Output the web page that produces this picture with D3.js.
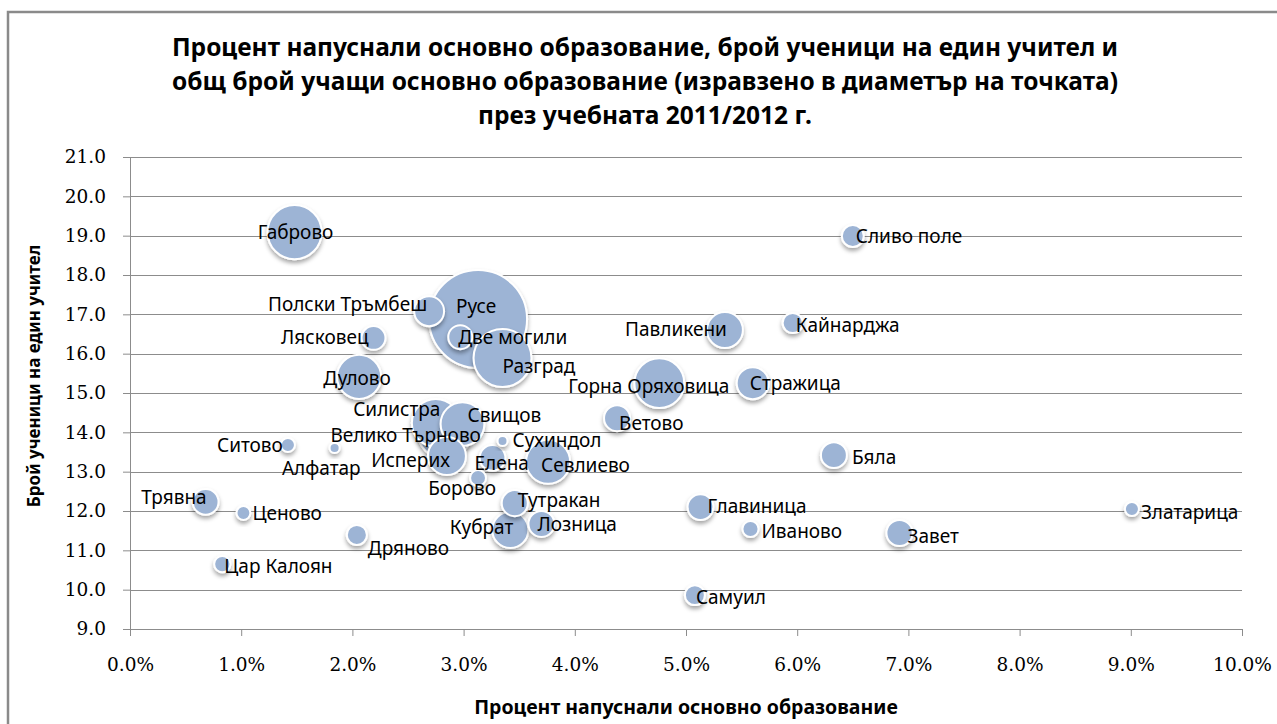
<!DOCTYPE html>
<html>
<head>
<meta charset="utf-8">
<script src="https://cdn.jsdelivr.net/npm/d3@7/dist/d3.min.js"></script>
<style>
  body { margin: 0; background: #fff; }
  svg { display: block; }
</style>
</head>
<body>
<div id="chart-area"></div>
<script>
// municipalities, dropout share (fraction), pupils per teacher, total pupils (bubble size)
var towns = ["Русе", "Разград", "Габрово", "Велико Търново", "Горна Оряховица", "Силистра",
    "Дулово", "Свищов", "Севлиево", "Исперих", "Павликени", "Кубрат", "Стражица",
    "Полски Тръмбеш", "Ветово", "Бяла", "Главиница", "Завет", "Елена", "Тутракан",
    "Лозница", "Трявна", "Две могили", "Лясковец", "Сливо поле", "Кайнарджа", "Самуил",
    "Дряново", "Иваново", "Борово", "Цар Калоян", "Ситово", "Ценово", "Златарица",
    "Алфатар", "Сухиндол"];
var dropout = [0.0313, 0.0335, 0.0148, 0.0283, 0.0476, 0.0275,
    0.0206, 0.0299, 0.0376, 0.0285, 0.0535, 0.0342, 0.0560,
    0.0269, 0.0438, 0.0633, 0.0513, 0.0692, 0.0326, 0.0346,
    0.0370, 0.0068, 0.0297, 0.0219, 0.0650, 0.0596, 0.0508,
    0.0204, 0.0558, 0.0313, 0.0083, 0.0142, 0.0102, 0.0901,
    0.0184, 0.0335];
var pupilsPerTeacher = [16.88, 15.89, 19.09, 14.01, 15.25, 14.24,
    15.41, 14.21, 13.25, 13.40, 16.60, 11.52, 15.25,
    17.08, 14.36, 13.42, 12.10, 11.44, 13.35, 12.20,
    11.67, 12.23, 16.42, 16.40, 18.99, 16.78, 9.86,
    11.39, 11.54, 12.84, 10.65, 13.68, 11.95, 12.05,
    13.60, 13.78];
var totalPupils = [16010, 5590, 4870, 4830, 4150, 3820,
    3240, 3190, 3230, 2410, 2150, 2170, 1710,
    1490, 1130, 1120, 1110, 1140, 1100, 1130,
    1120, 1110, 960, 950, 800, 680, 660,
    670, 430, 420, 440, 330, 320, 330,
    170, 165];

var xTickValues = [0, 0.01, 0.02, 0.03, 0.04, 0.05, 0.06, 0.07, 0.08, 0.09, 0.10];
var yTickValues = [9, 10, 11, 12, 13, 14, 15, 16, 17, 18, 19, 20, 21];

var titleLines = [
    "Процент напуснали основно образование, брой ученици на един учител и",
    "общ брой учащи основно образование (изравзено в диаметър на точката)",
    "през учебната 2011/2012 г."
];
var xTitle = "Процент напуснали основно образование";
var yTitle = "Брой ученици на един учител";

// hand placed label offsets (anchor, dx, dy from bubble centre), like the dragged labels in the original
var labelLayout = {
    "Русе": ["middle", -2, -13], "Разград": ["start", 0, 8], "Габрово": ["middle", 1, 0],
    "Велико Търново": ["middle", -39, 3], "Горна Оряховица": ["end", 70, 3],
    "Силистра": ["middle", -39, -14], "Дулово": ["middle", -2, 1], "Свищов": ["start", 5, -9],
    "Севлиево": ["start", -7, 3], "Исперих": ["end", 3, 4], "Павликени": ["end", 2, -1],
    "Кубрат": ["end", 3, -3], "Стражица": ["start", -3, 0], "Полски Тръмбеш": ["end", -2, -7],
    "Ветово": ["start", 2, 5], "Бяла": ["start", 18, 2], "Главиница": ["start", 7, -1],
    "Завет": ["start", 8, 3], "Елена": ["start", -18, 5], "Тутракан": ["start", 3, -3],
    "Лозница": ["start", -4, 0], "Трявна": ["end", 1, -5], "Две могили": ["start", -2, 0],
    "Лясковец": ["end", -5, -1], "Сливо поле": ["start", 3, 0], "Кайнарджа": ["start", 3, 2],
    "Самуил": ["start", 1, 2], "Дряново": ["start", 11, 13], "Иваново": ["start", 11, 2],
    "Борово": ["middle", -16, 10], "Цар Калоян": ["start", 2, 2], "Ситово": ["end", -5, 0],
    "Ценово": ["start", 9, 0], "Златарица": ["start", 9, 3], "Алфатар": ["end", 26, 20],
    "Сухиндол": ["start", 10, -1]
};

var W = 1277, H = 724;
var margin = { top: 157, right: 35, bottom: 95, left: 130 };
var width = W - margin.left - margin.right;
var height = H - margin.top - margin.bottom;

var svg = d3.select("#chart-area").append("svg")
    .attr("width", W)
    .attr("height", H);

// frame of the embedded chart object
svg.append("rect")
    .attr("x", 8).attr("y", 12)
    .attr("width", 1300).attr("height", 800)
    .attr("fill", "#fff")
    .attr("stroke", "#8a8a8a")
    .attr("stroke-width", 2.5);

var defs = svg.append("defs");
var shadow = defs.append("filter").attr("id", "shadow")
    .attr("x", "-50%").attr("y", "-50%").attr("width", "200%").attr("height", "200%");
shadow.append("feDropShadow")
    .attr("dx", 0).attr("dy", 3)
    .attr("stdDeviation", 2.2)
    .attr("flood-color", "#000")
    .attr("flood-opacity", 0.35);

// title
svg.append("g").selectAll("text")
    .data(titleLines)
    .enter().append("text")
    .attr("x", 645)
    .attr("y", function (d, i) { return 56 + i * 34; })
    .attr("text-anchor", "middle")
    .style("font-family", "'Noto Sans', sans-serif")
    .style("font-weight", "bold")
    .style("font-size", "24.5px")
    .style("fill", "#000")
    .text(function (d) { return d; });

var g = svg.append("g")
    .attr("transform", "translate(" + margin.left + "," + margin.top + ")");

var xScale = d3.scaleLinear().domain([0, 0.10]).range([0, width]);
var yScale = d3.scaleLinear().domain([9, 21]).range([height, 0]);
var rScale = d3.scaleSqrt().domain([0, d3.max(totalPupils)]).range([0, 49]);

// gridlines
g.append("g")
    .selectAll("line")
    .data(yTickValues.slice(1))
    .enter().append("line")
    .attr("x1", 0).attr("x2", width)
    .attr("y1", function (d) { return Math.round(yScale(d)) + 0.5; })
    .attr("y2", function (d) { return Math.round(yScale(d)) + 0.5; })
    .attr("stroke", "#8c8c8c")
    .attr("stroke-width", 1);

var xAxis = g.append("g")
    .attr("transform", "translate(0," + height + ")")
    .call(d3.axisBottom(xScale).tickValues(xTickValues).tickFormat(d3.format(".1%")).tickSize(7).tickPadding(22));

var yAxis = g.append("g")
    .call(d3.axisLeft(yScale).tickValues(yTickValues).tickFormat(d3.format(".1f")).tickSize(7).tickPadding(17));

[xAxis, yAxis].forEach(function (ax) {
    ax.select(".domain").attr("stroke", "#8c8c8c");
    ax.selectAll(".tick line").attr("stroke", "#8c8c8c");
    ax.selectAll(".tick text")
        .style("font-family", "'DejaVu Serif', serif")
        .style("font-size", "18.5px")
        .style("fill", "#000");
});

// axis titles
svg.append("text")
    .attr("x", margin.left + width / 2)
    .attr("y", 714)
    .attr("text-anchor", "middle")
    .style("font-family", "'Noto Sans', sans-serif")
    .style("font-weight", "bold")
    .style("font-size", "19.5px")
    .text(xTitle);

svg.append("text")
    .attr("transform", "translate(40,376) rotate(-90)")
    .attr("text-anchor", "middle")
    .style("font-family", "'Noto Sans', sans-serif")
    .style("font-weight", "bold")
    .style("font-size", "17px")
    .text(yTitle);

var points = towns.map(function (t, i) {
    return { name: t, x: dropout[i], y: pupilsPerTeacher[i], size: totalPupils[i] };
});
points.sort(function (a, b) { return b.size - a.size; });

g.append("g")
    .selectAll("circle")
    .data(points)
    .enter().append("circle")
    .attr("cx", function (d) { return xScale(d.x); })
    .attr("cy", function (d) { return yScale(d.y); })
    .attr("r", function (d) { return rScale(d.size); })
    .attr("fill", "#9db4d5")
    .attr("stroke", "#fff")
    .attr("stroke-width", 2)
    .attr("filter", "url(#shadow)");

g.append("g")
    .selectAll("text")
    .data(points)
    .enter().append("text")
    .attr("x", function (d) { return xScale(d.x) + labelLayout[d.name][1]; })
    .attr("y", function (d) { return yScale(d.y) + labelLayout[d.name][2]; })
    .attr("text-anchor", function (d) { return labelLayout[d.name][0]; })
    .attr("dominant-baseline", "central")
    .style("font-family", "'Noto Sans', sans-serif")
    .style("font-size", "19px")
    .style("fill", "#000")
    .text(function (d) { return d.name; });
</script>
</body>
</html>
